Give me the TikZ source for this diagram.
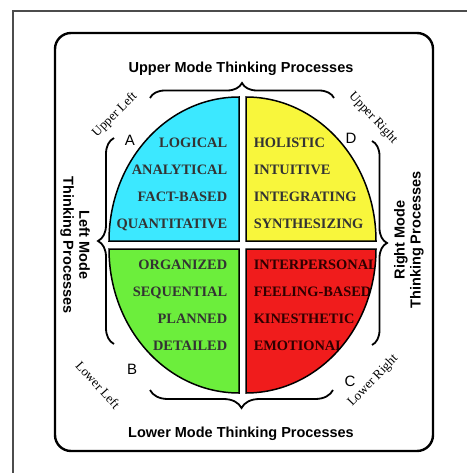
\documentclass[tikz,border=0pt]{standalone}
\usepackage{fontspec}
\setmainfont{Liberation Serif}
\setsansfont{Liberation Sans}
\usetikzlibrary{decorations.pathreplacing}

\definecolor{quadA}{RGB}{60,232,255}
\definecolor{quadD}{RGB}{248,246,60}
\definecolor{quadB}{RGB}{108,238,60}
\definecolor{quadC}{RGB}{240,28,28}

\tikzset{
  word/.style={font=\fontsize{14.4}{14.4}\selectfont\bfseries, text=black!80,
    inner sep=0pt, text height=9.5pt, text depth=0pt},
  mode/.style={font=\sffamily\bfseries\fontsize{14.5}{16}\selectfont, align=center, inner sep=0pt},
  corner/.style={font=\fontsize{13}{13}\selectfont, inner sep=0pt},
  letter/.style={font=\sffamily\fontsize{15}{15}\selectfont, inner sep=0pt},
  quadrant/.style={draw=black, line width=1.5pt},
  bracket/.style={decorate, decoration={brace, amplitude=#1}, line width=1.8pt},
  bracket/.default=15pt,
}

\begin{document}
\begin{tikzpicture}[x=1pt, y=-1pt]
  \useasboundingbox (0,0) rectangle (467,473);
  % page frame and the rounded box
  \draw[black!70, line width=1.2pt] (13,473) -- (13,11) -- (467,11);
  \draw[line width=2.4pt, rounded corners=16pt] (55,33) rectangle (433,451);

  % quadrant A, upper left
  \draw[quadrant, fill=quadA, path picture={
      \foreach \w [count=\i] in {LOGICAL,ANALYTICAL,FACT-BASED,QUANTITATIVE}
        \node[word, anchor=east] (a\i) at (228,116+27*\i) {\w};}]
    (239,241) -- (109,241) arc[start angle=180, end angle=270, x radius=130, y radius=144] -- cycle;
  % quadrant D, upper right
  \draw[quadrant, fill=quadD, path picture={
      \foreach \w [count=\i] in {HOLISTIC,INTUITIVE,INTEGRATING,SYNTHESIZING}
        \node[word, anchor=west] (d\i) at (253,116+27*\i) {\w};}]
    (246,241) -- (246,97) arc[start angle=270, end angle=360, x radius=130, y radius=144] -- cycle;
  % quadrant B, lower left
  \draw[quadrant, fill=quadB, path picture={
      \foreach \w [count=\i] in {ORGANIZED,SEQUENTIAL,PLANNED,DETAILED}
        \node[word, anchor=east] (b\i) at (228,238+27*\i) {\w};}]
    (239,249) -- (109,249) arc[start angle=180, end angle=90, x radius=130, y radius=144] -- cycle;
  % quadrant C, lower right
  \draw[quadrant, fill=quadC, path picture={
      \foreach \w [count=\i] in {INTERPERSONAL,FEELING-BASED,KINESTHETIC,EMOTIONAL}
        \node[word, anchor=west, text=black!70!red!60!black] (c\i) at (253,238+27*\i) {\w};}]
    (246,249) -- (376,249) arc[start angle=0, end angle=90, x radius=130, y radius=144] -- cycle;

  % braces round the circle
  \draw[bracket] (150,98) -- (334,98);
  \draw[bracket=18pt] (333,390) -- (150,390);
  \draw[bracket=16pt] (114,344) -- (114,138);
  \draw[bracket] (372,141) -- (372,345);

  % mode labels
  \node[mode] (upper) at (241,69) {Upper Mode Thinking Processes};
  \node[mode] (lower) at (241,434) {Lower Mode Thinking Processes};
  \node[mode, rotate=-90] (left) at (75,245) {Left Mode\\Thinking Processes};
  \node[mode, rotate=90] (right) at (409,240) {Right Mode\\Thinking Processes};

  % quadrant letters and corner names
  \node[letter] (la) at (130,140) {A};
  \node[letter] (ld) at (351,138) {D};
  \node[letter] (lb) at (132,369) {B};
  \node[letter] (lc) at (350,381) {C};
  \node[corner, rotate=45] (ul) at (115,115) {Upper Left};
  \node[corner, rotate=-47] (ur) at (373,118) {Upper Right};
  \node[corner, rotate=-48] (ll) at (98,385) {Lower Left};
  \node[corner, rotate=46] (lr) at (373,381) {Lower Right};
\end{tikzpicture}
\end{document}
